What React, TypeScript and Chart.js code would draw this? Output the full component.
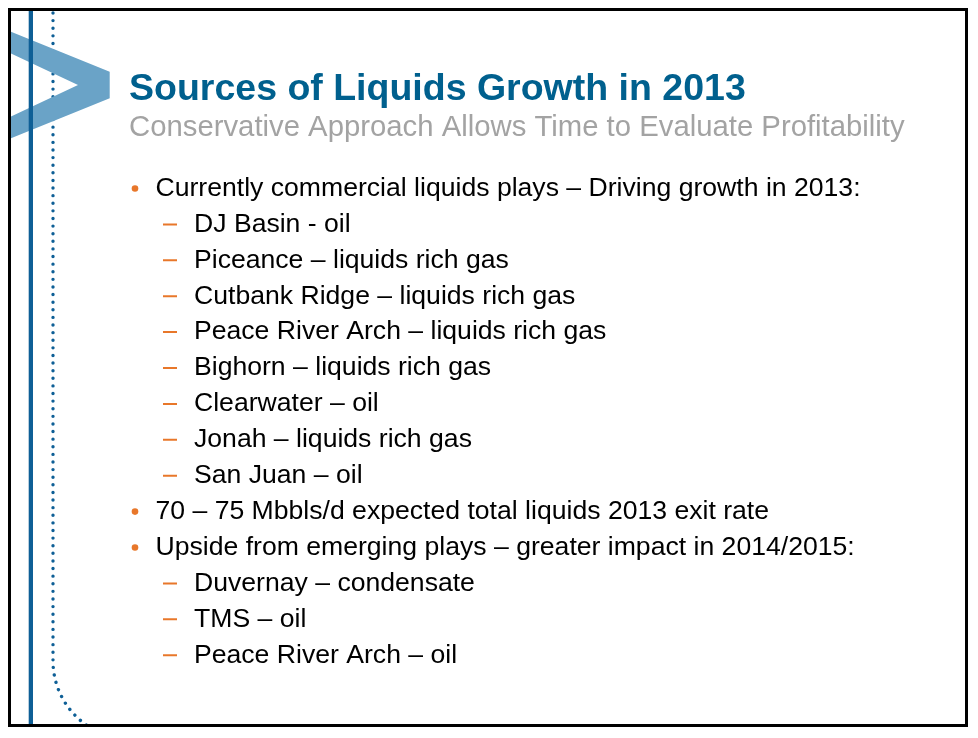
import { useEffect, useRef } from "react"
import { Chart, registerables } from "chart.js"

Chart.register(...registerables)

// slide texts
const titleText = "Sources of Liquids Growth in 2013"
const subtitleText = "Conservative Approach Allows Time to Evaluate Profitability"

// one entry per line of the list, with its indent level (0 = bullet, 1 = dash)
const lineTexts = [
  "Currently commercial liquids plays – Driving growth in 2013:",
  "DJ Basin - oil",
  "Piceance – liquids rich gas",
  "Cutbank Ridge – liquids rich gas",
  "Peace River Arch – liquids rich gas",
  "Bighorn – liquids rich gas",
  "Clearwater – oil",
  "Jonah – liquids rich gas",
  "San Juan – oil",
  "70 – 75 Mbbls/d expected total liquids 2013 exit rate",
  "Upside from emerging plays – greater impact in 2014/2015:",
  "Duvernay – condensate",
  "TMS – oil",
  "Peace River Arch – oil",
]
const lineLevels = [0, 1, 1, 1, 1, 1, 1, 1, 1, 0, 0, 1, 1, 1]

const FONT = "'Liberation Sans', Arial, sans-serif"
const ORANGE = "#e8772a"
const DARK_BLUE = "#0e5f96"
const LIGHT_BLUE = "#6aa3c7"

// background decoration: solid rule, dotted curve and the chevron
const decorPlugin = {
  id: "decor",
  beforeDraw(chart: Chart) {
    const ctx = chart.ctx
    const h = chart.height
    ctx.save()

    // dotted line with curve at the bottom
    ctx.strokeStyle = DARK_BLUE
    ctx.lineWidth = 3.4
    ctx.lineCap = "round"
    ctx.setLineDash([0.01, 7.6])
    const dx = 42
    const curveY = 650
    const r = 78
    ctx.beginPath()
    ctx.moveTo(dx, 2)
    ctx.lineTo(dx, curveY)
    ctx.arc(dx + r, curveY, r, Math.PI, Math.PI / 2, true)
    ctx.stroke()
    ctx.setLineDash([])

    // chevron
    ctx.fillStyle = LIGHT_BLUE
    ctx.beginPath()
    ctx.moveTo(-2, 20)
    ctx.lineTo(98.7, 60.7)
    ctx.lineTo(98.7, 87.3)
    ctx.lineTo(-2, 128)
    ctx.lineTo(-2, 106.5)
    ctx.lineTo(67, 74)
    ctx.lineTo(-2, 41.5)
    ctx.closePath()
    ctx.fill()

    // solid vertical rule
    ctx.fillStyle = DARK_BLUE
    ctx.fillRect(17.7, 0, 4.3, h)

    ctx.restore()
  },
}

// list text next to every marker
const listTextPlugin = {
  id: "listText",
  afterDatasetsDraw(chart: Chart) {
    const ctx = chart.ctx
    ctx.save()
    ctx.fillStyle = "#000000"
    ctx.font = `26.6px ${FONT}`
    ctx.textBaseline = "middle"
    ctx.textAlign = "left"
    chart.data.datasets.forEach((ds: any, di: number) => {
      const meta = chart.getDatasetMeta(di)
      meta.data.forEach((pt: any, i: number) => {
        const raw = ds.data[i]
        const offset = raw.x === 0 ? 20.5 : 24
        ctx.fillText(lineTexts[raw.y], pt.x + offset, pt.y)
      })
    })
    ctx.restore()
  },
}

export default function App() {
  const canvasRef = useRef<HTMLCanvasElement>(null)
  const chartInstance = useRef<Chart | null>(null)

  useEffect(() => {
    if (!canvasRef.current) return
    if (chartInstance.current) {
      chartInstance.current.destroy()
    }

    const bullets = lineLevels
      .map((lvl, i) => ({ x: lvl, y: i }))
      .filter((p) => p.x === 0)
    const dashes = lineLevels
      .map((lvl, i) => ({ x: lvl, y: i }))
      .filter((p) => p.x === 1)

    const ctx = canvasRef.current.getContext("2d")
    if (ctx) {
      chartInstance.current = new Chart(ctx, {
        type: "scatter",
        data: {
          datasets: [
            {
              label: "bullets",
              data: bullets,
              pointStyle: "circle",
              pointRadius: 3.3,
              pointBackgroundColor: ORANGE,
              pointBorderColor: ORANGE,
              pointBorderWidth: 0,
            },
            {
              label: "dashes",
              data: dashes,
              pointStyle: "line",
              pointRadius: 7,
              pointBorderColor: ORANGE,
              pointBorderWidth: 2,
            },
          ],
        },
        options: {
          responsive: false,
          animation: false,
          events: [],
          layout: { autoPadding: false, padding: { left: 118, top: 0, right: 0, bottom: 0 } },
          scales: {
            x: { type: "linear", display: false, min: -0.1714, max: 23.714 },
            y: { type: "linear", display: false, reverse: true, min: -1.282, max: 14.916 },
          },
          plugins: {
            legend: { display: false },
            tooltip: { enabled: false },
            title: {
              display: true,
              text: titleText,
              align: "start",
              color: "#00608e",
              font: { family: FONT, size: 37.5, weight: "bold", lineHeight: 1 },
              padding: { top: 60, bottom: 0 },
            },
            subtitle: {
              display: true,
              text: subtitleText,
              align: "start",
              color: "#a3a3a3",
              font: { family: FONT, size: 29.3, lineHeight: 1 },
              padding: { top: 4.7, bottom: 0 },
            },
          },
        },
        plugins: [decorPlugin, listTextPlugin],
      })
    }

    return () => {
      if (chartInstance.current) {
        chartInstance.current.destroy()
        chartInstance.current = null
      }
    }
  }, [])

  return (
    <div
      style={{
        width: 960,
        height: 719,
        boxSizing: "border-box",
        border: "3px solid #000",
        background: "#fff",
        overflow: "hidden",
      }}
    >
      <canvas ref={canvasRef} width={954} height={713} style={{ display: "block" }} />
    </div>
  )
}
